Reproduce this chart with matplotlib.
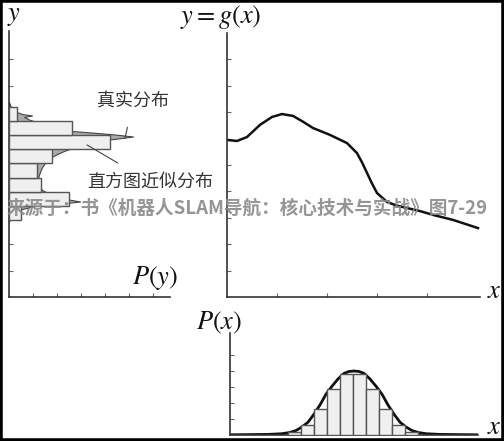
import numpy as np
import matplotlib
matplotlib.use("Agg")
import matplotlib.pyplot as plt
from matplotlib.patches import Rectangle

plt.rcParams['font.family'] = ['Noto Sans CJK SC', 'DejaVu Sans']
plt.rcParams['mathtext.fontset'] = 'stix'

# ---- data ----
# middle panel: y = g(x)
gx = [0.0, 0.2, 0.4, 0.66, 0.9, 1.1, 1.32, 1.52, 1.72, 2.06, 2.4, 2.6, 2.7, 2.8,
      2.9, 3.0, 3.2, 3.4, 3.6, 3.85, 4.12, 4.52, 5.02]
gy = [5.95, 5.91, 6.06, 6.52, 6.82, 6.93, 6.86, 6.64, 6.40, 6.14, 5.83, 5.45, 5.1, 4.70,
      4.30, 3.94, 3.60, 3.46, 3.37, 3.26, 3.11, 2.92, 2.61]

# left panel: histogram of y (bottom edges, widths)
y_bins = [2.92, 3.455, 3.99, 4.525, 5.06, 5.595, 6.13, 6.665]
y_bin_h = 0.535
Py_hist = [0.5, 2.5, 1.33, 1.17, 1.79, 4.2, 2.63, 0.33]

# left panel: true distribution of y
Py_y = [7.386, 7.197, 7.045, 6.932, 6.875, 6.818, 6.705, 6.553, 6.402, 6.288, 6.174,
        6.080, 6.004, 5.947, 5.795, 5.644, 5.530, 5.379, 5.265, 5.076, 4.924, 4.735,
        4.508, 4.242, 4.053, 3.864, 3.712, 3.617, 3.542, 3.447, 3.295, 3.106, 2.841]
Py_p = [0, 0.08, 0.21, 0.54, 0.96, 0.63, 0.88, 1.5, 2.13, 2.63, 4.21,
        5.17, 4.54, 4.0, 3.29, 2.63, 2.29, 1.92, 1.71, 1.5, 1.38, 1.29,
        1.21, 1.21, 1.38, 1.79, 2.38, 2.96, 2.21, 1.08, 0.38, 0.08, 0]

# bottom panel: histogram of x (left edges, heights)
x_bins = [1.22, 1.48, 1.74, 2.0, 2.26, 2.52, 2.78, 3.04, 3.30, 3.56]
x_bin_w = 0.26
Px_hist = [0.19, 0.63, 1.63, 2.88, 3.81, 3.81, 2.88, 1.63, 0.63, 0.19]

# bottom panel: true distribution of x
Px_x = [0.06, 0.46, 0.84, 1.10, 1.26, 1.38, 1.50, 1.62, 1.74, 1.86, 1.98, 2.10, 2.22,
        2.34, 2.44, 2.54, 2.64, 2.74, 2.86, 2.98, 3.10, 3.22, 3.34, 3.46, 3.58, 3.70,
        3.82, 3.98, 4.24, 4.62, 5.02]
Px_y = [0.0125, 0.025, 0.04, 0.08, 0.16, 0.28, 0.5, 0.8, 1.3, 1.88, 2.55, 3.05, 3.5,
        3.85, 3.97, 4.0, 3.97, 3.85, 3.5, 3.05, 2.55, 1.88, 1.3, 0.8, 0.5, 0.28,
        0.16, 0.08, 0.04, 0.025, 0.0125]

W, H = 504, 441
fig = plt.figure(figsize=(W / 100, H / 100), dpi=100)


def px_axes(left, right, top, bottom):
    # axes placed by pixel box of the reference
    return fig.add_axes([left / W, (H - bottom) / H, (right - left) / W, (bottom - top) / H])


def style(ax):
    for s in ['top', 'right']:
        ax.spines[s].set_visible(False)
    for s in ['left', 'bottom']:
        ax.spines[s].set_color('#333333')
        ax.spines[s].set_linewidth(1.2)
    ax.tick_params(direction='in', length=3, width=0.8, color='#666666',
                   labelleft=False, labelbottom=False)
    ax.patch.set_alpha(0)


# left panel
axl = px_axes(9, 170, 31, 297)
style(axl)
axl.fill_betweenx(Py_y, 0, Py_p, color='#aaaaaa', edgecolor='#444444', lw=0.8, zorder=2)
axl.barh(y_bins, Py_hist, height=y_bin_h, align='edge', color='#efefef',
         edgecolor='#555555', lw=1.0, zorder=3)
axl.set_xlim(0, 161 / 24)
axl.set_ylim(0, 266 / 26.4)
axl.set_xticks(range(1, 7))
axl.set_yticks(range(1, 10))
axl.annotate('真实分布', xy=(4.83, 6.0), xytext=(5.17, 7.39), ha='center', va='center',
             fontsize=13, color='#333333', zorder=5,
             arrowprops=dict(arrowstyle='-', color='#444444', lw=0.8, shrinkA=10, shrinkB=0))
axl.annotate('直方图近似分布', xy=(3.25, 5.76), xytext=(5.875, 4.36), ha='center', va='center',
             fontsize=13, color='#333333', zorder=5,
             arrowprops=dict(arrowstyle='-', color='#444444', lw=0.8, shrinkA=10, shrinkB=0))

# middle panel
axm = px_axes(227, 480, 33, 297)
style(axm)
axm.plot(gx, gy, color='#111111', lw=1.8)
axm.set_xlim(0, 253 / 50)
axm.set_ylim(0, 264 / 26.4)
axm.set_xticks(range(1, 5))
axm.set_yticks(range(1, 10))

# bottom panel
axb = px_axes(230, 478, 333, 435)
style(axb)
axb.plot(Px_x, Px_y, color='#111111', lw=2.0, zorder=2, solid_capstyle='butt')
axb.bar(x_bins, Px_hist, width=x_bin_w, align='edge', color='#efefef',
        edgecolor='#555555', lw=1.0, zorder=3)
axb.set_xlim(3 / 50, 251 / 50)
axb.set_ylim(0, 102 / 16)
axb.set_xticks([])
axb.set_yticks(range(1, 6))

# math labels
lab = dict(fontsize=19, color='#111111', ha='center', va='center')
fig.text(14 / W, 1 - 15 / H, r'$y$', **lab)
fig.text(221 / W, 1 - 17 / H, r'$y=g(x)$', **lab)
fig.text(155 / W, 1 - 278 / H, r'$P(y)$', **lab)
fig.text(494 / W, 1 - 290 / H, r'$x$', **lab)
fig.text(219 / W, 1 - 323 / H, r'$P(x)$', **lab)
fig.text(494 / W, 1 - 427 / H, r'$x$', **lab)

# watermark
fig.text(247 / W, 1 - 208 / H, '来源于：书《机器人SLAM导航：核心技术与实战》图7-29',
         fontsize=13.4, fontweight='bold', color='#8a8a8a', alpha=0.9,
         ha='center', va='center', zorder=10)

# outer frame
fig.patches.append(Rectangle((0, 0), 1, 1, transform=fig.transFigure, fill=False,
                             lw=4, edgecolor='black'))

fig.savefig('out.png', dpi=100)
